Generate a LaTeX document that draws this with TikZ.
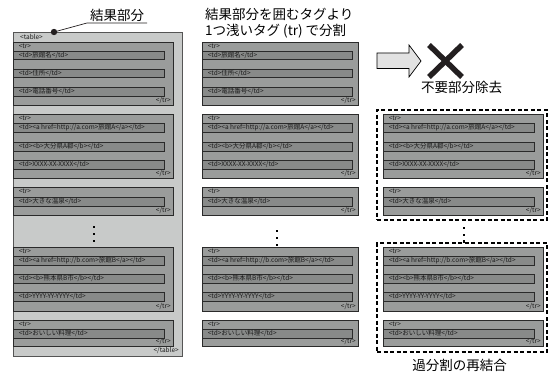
\documentclass[tikz,border=0pt]{standalone}
\usepackage{fontspec}
\setmainfont{Noto Sans CJK JP}
\usetikzlibrary{fit}
\definecolor{tablec}{HTML}{C8CAC9}
\definecolor{trc}{HTML}{9A9C9B}
\definecolor{tdc}{HTML}{888A89}
\definecolor{bordc}{HTML}{2A2A2A}
\definecolor{txtc}{HTML}{1A1A1A}
\definecolor{xc}{HTML}{231F20}
\definecolor{arrc}{HTML}{E2E2E2}
\tikzset{
  tablebox/.style={draw=bordc!80, fill=tablec, line width=0.9pt, inner sep=0pt},
  trbox/.style={draw=bordc, fill=trc, line width=0.9pt, inner sep=0pt},
  tdbox/.style={draw=bordc, fill=tdc, line width=0.8pt, inner sep=0pt},
  tag/.style={font=\fontsize{6.5}{7}\selectfont, inner sep=0pt, text=txtc},
  titletext/.style={font=\fontsize{13.5}{16}\selectfont, inner sep=0pt, text=black},
  dotsq/.style={fill=black, minimum size=2.8pt, inner sep=0pt},
  groupbox/.style={draw=black, dashed, dash pattern=on 4pt off 2.5pt, line width=1.1pt, inner sep=0pt},
}
% tr block: #1 name, #2 xl, #3 xr, #4 ytop, #5 ybot
\newcommand\mytr[5]{%
  \node[trbox, fit={(#2,#4) (#3,#5)}] (#1) {};
  \node[tag, anchor=north west] (#1-o) at ([xshift=6pt,yshift=-2pt]#1.north west) {<tr>};
  \node[tag, anchor=south east] (#1-c) at ([xshift=-2.5pt,yshift=1.5pt]#1.south east) {</tr>};
}
% td cell: #1 name, #2 xl, #3 xr, #4 ytop, #5 ybot, #6 text
\newcommand\mytd[6]{%
  \node[tdbox, fit={(#2,#4) (#3,#5)}] (#1) {};
  \node[tag, anchor=west] (#1-t) at ([xshift=6pt]#1.west) {#6};
}
% rows: #1 prefix, #2 xl, #3 tr right, #4 td right
\newcommand\rowA[4]{%
  \mytr{#1a}{#2}{#3}{42}{105}
  \mytd{#1a1}{#2}{#4}{51}{59.5}{<td>旅館名</td>}
  \mytd{#1a2}{#2}{#4}{69}{77.5}{<td>住所</td>}
  \mytd{#1a3}{#2}{#4}{87}{96}{<td>電話番号</td>}
}
\newcommand\rowB[4]{%
  \mytr{#1b}{#2}{#3}{114}{178}
  \mytd{#1b1}{#2}{#4}{123}{132}{<td><a href=http://a.com>旅館A</a></td>}
  \mytd{#1b2}{#2}{#4}{142}{151}{<td><b>大分県A郡</b></td>}
  \mytd{#1b3}{#2}{#4}{160}{169}{<td>XXXX-XX-XXXX</td>}
}
\newcommand\rowC[4]{%
  \mytr{#1c}{#2}{#3}{187}{215}
  \mytd{#1c1}{#2}{#4}{197}{206}{<td>大きな温泉</td>}
}
\newcommand\rowD[4]{%
  \mytr{#1d}{#2}{#3}{247}{311}
  \mytd{#1d1}{#2}{#4}{256.5}{265}{<td><a href=http://b.com>旅館B</a></td>}
  \mytd{#1d2}{#2}{#4}{274}{283}{<td><b>熊本県B市</b></td>}
  \mytd{#1d3}{#2}{#4}{292}{301.5}{<td>YYYY-YY-YYYY</td>}
}
\newcommand\rowE[4]{%
  \mytr{#1e}{#2}{#3}{320}{346}
  \mytd{#1e1}{#2}{#4}{329}{338}{<td>おいしい料理</td>}
}
\begin{document}
\begin{tikzpicture}[x=1pt,y=-1pt]
\useasboundingbox (0,0) rectangle (551,377);

% ---------- left panel ----------
\node[tablebox, fit={(13,32) (182,356)}] (tbl) {};
\node[tag, anchor=west] (tblo) at (20,37) {<table>};
\node[tag, anchor=east] (tblc) at (179,350.5) {</table>};
\rowA{L}{13}{173}{164}
\rowB{L}{13}{173}{164}
\rowC{L}{13}{173}{164}
\rowD{L}{13}{173}{164}
\rowE{L}{13}{173}{164}
\node[dotsq] (Ld1) at (94,227) {};
\node[dotsq] (Ld2) at (94,234) {};
\node[dotsq] (Ld3) at (94,241) {};

% title left
\node[titletext, anchor=base] (t1) at (117,20.5) {結果部分};
\coordinate (ulL) at (87,23);
\coordinate (ulR) at (147,23);
\fill[xc] (54,32) circle (3.2pt) coordinate (pin);
\draw[xc, line width=0.7pt] (pin) -- (ulL) -- (ulR);

% ---------- middle panel ----------
\node[titletext, anchor=north west, align=left] (t2) at (205,8) {結果部分を囲むタグより\\1つ浅いタグ (tr) で分割};
\rowA{M}{202}{358}{352}
\rowB{M}{202}{358}{352}
\rowC{M}{202}{358}{352}
\rowD{M}{202}{358}{352}
\rowE{M}{202}{358}{352}
\node[dotsq] (Md1) at (277,231) {};
\node[dotsq] (Md2) at (277,238) {};
\node[dotsq] (Md3) at (277,245) {};

% ---------- right panel ----------
\draw[line width=0.7pt, fill=arrc] (377,53) -- (409,53) -- (409,45) -- (421,61) -- (409,77) -- (409,68.5) -- (377,68.5) -- cycle;
\draw[xc, line width=5.5pt] (429,45) -- (462,77);
\draw[xc, line width=5.5pt] (462,45) -- (429,77);
\node[titletext, anchor=base] (t3) at (461.5,93) {不要部分除去};

\node[groupbox, fit={(377,110) (547,220)}] (g1) {};
\node[groupbox, fit={(377,243) (547,352)}] (g2) {};
\rowB{R}{383}{543}{534}
\rowC{R}{383}{543}{534}
\rowD{R}{383}{543}{534}
\rowE{R}{383}{543}{534}
\node[dotsq] (Rd1) at (464,228) {};
\node[dotsq] (Rd2) at (464,235) {};
\node[dotsq] (Rd3) at (464,241.5) {};
\node[titletext, anchor=base] (t4) at (459.5,370) {過分割の再結合};
\end{tikzpicture}
\end{document}
